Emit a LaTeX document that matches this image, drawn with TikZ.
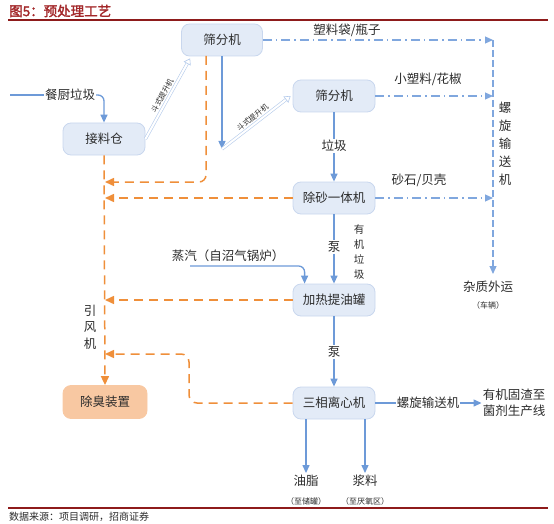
\documentclass[tikz,border=0pt]{standalone}
\usepackage{fontspec}
\newfontfamily\cjk[AutoFakeBold=2]{Noto Sans CJK SC}
\usetikzlibrary{arrows.meta,calc}
\definecolor{bl}{HTML}{6D9AD8}
\definecolor{dl}{HTML}{80A7DE}
\definecolor{hb}{HTML}{B5CBEB}
\definecolor{boxf}{HTML}{E3EBF7}
\definecolor{boxd}{HTML}{C9D7EE}
\definecolor{og}{HTML}{EF8F3A}
\definecolor{pf}{HTML}{F8C8A2}
\definecolor{tx}{HTML}{2B2B2B}
\definecolor{rl}{HTML}{8E1B1B}
\definecolor{tt}{HTML}{A3282A}
\begin{document}
\begin{tikzpicture}[x=1pt,y=-1pt,
  font=\cjk\fontsize{12.5}{14}\selectfont, text=tx,
  proc/.style={draw=boxd, fill=boxf, rounded corners=8pt, minimum width=82pt, minimum height=32pt, inner sep=0pt, line width=0.8pt},
  odorbox/.style={draw=pf, fill=pf, rounded corners=8pt, minimum width=84pt, minimum height=33pt, inner sep=0pt, line width=0.8pt},
  lbl/.style={inner sep=1pt},
  small/.style={font=\cjk\fontsize{8}{10}\selectfont},
  tiny/.style={font=\cjk\fontsize{7.5}{9}\selectfont},
  barrow/.style={draw=bl, line width=1.3pt, -{Triangle[length=8pt,width=7pt]}},
  bline/.style={draw=bl, line width=1.3pt},
  oarrow/.style={draw=og, line width=1.5pt, dash pattern=on 9pt off 6pt, -{Triangle[length=9pt,width=8pt]}},
  ddarrow/.style={draw=dl, line width=1.2pt, dash pattern=on 9pt off 4pt on 1.5pt off 4pt, -{Triangle[length=8pt,width=7pt]}},
  vdash/.style={draw=dl, line width=1.2pt, dash pattern=on 7pt off 3pt, -{Triangle[length=8pt,width=7pt]}},
  hollow/.style={draw=hb, line width=0.6pt, double=white, double distance=2pt, -{Triangle[open, length=6pt, width=8pt]}}
]
\useasboundingbox (0,0) rectangle (554,524);
% title and rules
\node[anchor=west, font=\cjk\bfseries\fontsize{13.5}{15}\selectfont, text=tt, inner sep=0pt] (title) at (9,11) {图5：预处理工艺};
\draw[rl, line width=1.6pt] (8,20) -- (548,20);
\draw[rl, line width=1.6pt] (8,508) -- (548,508);
\node[anchor=west, font=\cjk\fontsize{10}{12}\selectfont, inner sep=0pt] (src) at (9,517) {数据来源：项目调研，招商证券};

% process boxes
\node[proc, minimum width=81pt] (s1) at (222,40) {筛分机};
\node[proc] (s2) at (334,96) {筛分机};
\node[proc] (s3) at (334,198) {除砂一体机};
\node[proc] (s4) at (334,300) {加热提油罐};
\node[proc] (s5) at (334,403) {三相离心机};
\node[proc] (jl) at (104,139) {接料仓};
\node[odorbox] (cx) at (105,402) {除臭装置};

% labels
\node[lbl] (lsl) at (347,30) {塑料袋/瓶子};
\node[lbl] (lxs) at (428,79) {小塑料/花椒};
\node[lbl] (lsb) at (419,180) {砂石/贝壳};
\node[lbl, fill=white] (llj) at (334,146) {垃圾};
\node[lbl, fill=white] (lb1) at (334,247) {泵};
\node[lbl, fill=white] (lb2) at (334,352) {泵};
\node[lbl, align=center, font=\cjk\fontsize{10.5}{15}\selectfont] (lyj) at (359,252) {有\\机\\垃\\圾};
\node[lbl, align=center, font=\cjk\fontsize{12.5}{18}\selectfont] (lls) at (505,144) {螺\\旋\\输\\送\\机};
\node[lbl] (lzz) at (488,287) {杂质外运};
\node[lbl, small] (lcl) at (488,305) {（车辆）};
\node[lbl, align=center, font=\cjk\fontsize{12.5}{16.5}\selectfont] (lyf) at (90,327) {引\\风\\机};
\node[lbl] (lcy) at (70,95) {餐厨垃圾};
\node[lbl] (lzq) at (228,256) {蒸汽（自沼气锅炉）};
\node[lbl] (llx) at (428,403) {螺旋输送机};
\node[lbl, align=center, font=\cjk\fontsize{12.5}{16}\selectfont] (lgz) at (514,403) {有机固渣至\\菌剂生产线};
\node[lbl] (lyz) at (306,481) {油脂};
\node[lbl, small] (lyz2) at (306,501) {（至储罐）};
\node[lbl] (ljl) at (365,481) {浆料};
\node[lbl, small] (ljl2) at (365,501) {（至厌氧区）};

% coordinates
\coordinate (st0) at (10,95);
\coordinate (t2) at (222,149);
\coordinate (sst) at (190,266);
\coordinate (r1) at (493,40);
\coordinate (r2) at (493,274);
\coordinate (o1) at (206,56);
\coordinate (k1) at (105,182);
\coordinate (k4) at (189,354);
\coordinate (k5) at (105,354);

% blue solid
\draw[bline] (st0) -- (lcy.west);
\draw[barrow, rounded corners=6pt] (lcy.east) -| (jl.north);
\draw[barrow] (s1.south) -- (t2);
\draw[bline] (s2.south) -- (llj.north);
\draw[barrow] (llj.south) -- (s3.north);
\draw[bline] (s3.south) -- (lb1.north);
\draw[barrow] (lb1.south) -- (s4.north);
\draw[bline] (s4.south) -- (lb2.north);
\draw[barrow] (lb2.south) -- (s5.north);
\draw[bline] (s5.east) -- (llx.west);
\draw[barrow] (llx.east) -- (lgz.west);
\draw[barrow] (s5.south -| lyz) -- ($(lyz.north)+(0,-1)$);
\draw[barrow] (s5.south -| ljl) -- ($(ljl.north)+(0,-1)$);
\draw[barrow, rounded corners=6pt] (sst) -| ($(s4.north west)+(12,0)$);

% hollow (bucket elevator)
\draw[hollow] (jl.east) -- node[sloped, above, tiny, inner sep=2.5pt] (ld1) {斗式提升机} ($(s1.south west)+(9,2)$);
\draw[hollow] (t2) -- node[sloped, above, tiny, inner sep=2.5pt] (ld2) {斗式提升机} ($(s2.west)+(-2,0)$);

% dash-dot to screw conveyor
\draw[ddarrow] (s1.east) -- (r1);
\draw[ddarrow] (s2.east) -- (s2.east -| r1);
\draw[ddarrow] (s3.east) -- (s3.east -| r1);
\draw[vdash] (r1) -- (r2);

% orange gas lines
\draw[oarrow, rounded corners=7pt] (o1) |- (k1);
\draw[oarrow] (s3.west) -- (s3.west -| k1);
\draw[oarrow] (s4.west) -- (s4.west -| k1);
\draw[oarrow, rounded corners=8pt] (s5.west) -| (k4) -- (k5);
\draw[oarrow] (jl.south) -- (cx.north);
\end{tikzpicture}
\end{document}
